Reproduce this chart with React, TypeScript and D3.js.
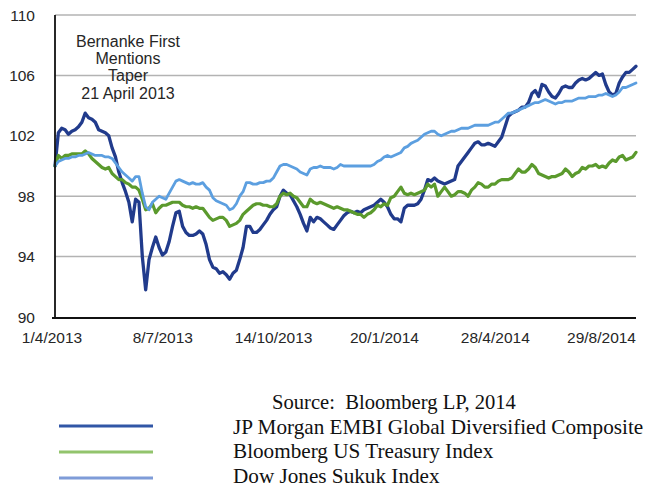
import React from "react";
import * as d3 from "d3";

const jpMorgan = [
  100.0, 102.2, 102.5, 102.4, 102.1, 102.3, 102.4, 102.6, 102.9, 103.5,
  103.2, 103.1, 102.9, 102.4, 102.3, 102.2, 102.0, 101.2, 100.6, 99.6,
  98.9, 98.3, 97.6, 96.3, 97.8, 97.6, 94.0, 91.8, 93.8, 94.6,
  95.3, 94.6, 94.1, 94.3, 95.0, 96.0, 96.9, 97.0, 96.0, 95.6,
  95.4, 95.4, 95.5, 95.7, 95.5, 94.8, 93.8, 93.3, 93.2, 92.9,
  93.0, 92.8, 92.5, 92.9, 93.1, 93.8, 94.6, 96.0, 96.0, 95.6,
  95.6, 95.8, 96.1, 96.4, 96.8, 97.1, 97.3, 98.0, 98.4, 98.2,
  98.1, 97.7, 97.3, 96.8, 96.2, 95.7, 96.6, 96.3, 96.6, 96.5,
  96.3, 96.1, 95.9, 95.8, 96.1, 96.4, 96.7, 96.9, 97.0, 96.9,
  97.0, 96.9, 97.1, 97.2, 97.3, 97.4, 97.6, 97.8, 97.6, 97.3,
  96.8, 96.5, 96.5, 96.3, 97.2, 97.4, 97.4, 97.4, 97.5, 97.8,
  98.4, 99.1, 99.0, 99.2, 99.0, 98.9, 98.8, 98.9, 99.0, 99.1,
  100.0, 100.3, 100.6, 100.9, 101.2, 101.5, 101.6, 101.4, 101.4, 101.5,
  101.4, 101.3, 101.6, 101.9, 102.6, 103.3, 103.5, 103.6, 103.7, 103.9,
  103.9, 104.2, 104.8, 105.0, 104.6, 105.4, 105.3, 104.9, 104.6, 104.5,
  104.8, 105.2, 105.3, 105.2, 105.2, 105.5, 105.7, 105.8, 105.7, 105.8,
  106.0, 106.2, 106.0, 106.1, 105.4, 104.9, 104.7, 104.8, 105.5, 105.9,
  106.2, 106.2, 106.4, 106.6,
];

const usTreasury = [
  100.0, 100.7, 100.5, 100.7, 100.7, 100.8, 100.8, 100.8, 100.8, 101.0,
  100.8, 100.5, 100.3, 100.1, 99.9, 99.8, 99.9, 99.5, 99.3, 99.1,
  99.1, 98.9, 98.8, 98.6, 98.6, 98.4, 97.8, 97.1, 97.2, 97.5,
  96.9, 97.2, 97.4, 97.4, 97.5, 97.6, 97.6, 97.6, 97.4, 97.3,
  97.3, 97.2, 97.3, 97.2, 97.2, 96.9, 96.6, 96.4, 96.5, 96.6,
  96.6, 96.4, 96.0, 96.1, 96.2, 96.4, 96.8, 97.0, 97.2, 97.4,
  97.5, 97.5, 97.4, 97.4, 97.3, 97.3, 97.5, 98.0, 98.2, 98.1,
  98.2, 98.0, 97.9, 97.6, 97.3, 97.3, 97.8, 97.6, 97.5, 97.6,
  97.5, 97.4, 97.3, 97.2, 97.3, 97.2, 97.1, 97.1, 97.0, 96.9,
  96.8, 96.8, 96.6, 96.8, 96.9, 97.1, 97.4, 97.3, 97.5, 97.4,
  97.9, 98.0, 98.3, 98.6, 98.2, 98.1, 98.2, 98.1, 98.2, 98.3,
  98.4, 98.8, 98.6, 98.8, 98.0, 98.3, 98.6, 98.3, 98.0, 98.1,
  98.3, 98.3, 98.2, 98.0, 98.4, 98.6, 98.9, 98.8, 98.6, 98.6,
  98.8, 98.8, 99.0, 99.1, 99.1, 99.1, 99.2, 99.5, 99.8, 99.6,
  99.6, 99.8, 100.1, 99.9, 99.5, 99.4, 99.3, 99.2, 99.3, 99.3,
  99.4, 99.5, 99.8, 99.6, 99.3, 99.5, 99.6, 99.9, 99.8, 100.0,
  100.0, 100.1, 99.9, 100.0, 99.9, 100.2, 100.4, 100.3, 100.6, 100.7,
  100.4, 100.5, 100.6, 100.9,
];

const sukuk = [
  100.0, 100.3, 100.4, 100.5, 100.5, 100.6, 100.6, 100.7, 100.7, 100.8,
  100.9, 100.8, 100.7, 100.7, 100.7, 100.6, 100.6, 100.5, 100.2, 99.9,
  99.6, 99.4, 99.2, 99.0, 99.3, 99.3, 98.2, 97.3, 97.1, 97.6,
  97.8, 98.0, 97.9, 97.8, 98.2, 98.6, 99.0, 99.1, 99.0, 98.9,
  98.8, 98.9, 98.8, 98.8, 98.9, 98.6, 98.4, 97.9, 97.7, 97.6,
  97.5, 97.4, 97.1, 97.2, 97.5, 98.0, 98.3, 98.9, 98.9, 98.8,
  98.8, 98.9, 98.9, 99.0, 99.0, 99.2, 99.6, 100.0, 100.1, 100.1,
  100.0, 99.9, 99.8, 99.6, 99.5, 99.4, 99.8, 99.9, 99.9, 100.0,
  99.9, 99.9, 99.9, 99.8, 99.9, 100.1, 100.0, 100.0, 100.0, 100.0,
  100.0, 100.0, 100.0, 100.0, 100.0, 100.1, 100.3, 100.4, 100.6, 100.7,
  100.6, 100.7, 100.8, 100.9, 101.2, 101.3, 101.5, 101.6, 101.7, 101.9,
  102.1, 102.2, 102.3, 102.3, 102.1, 102.0, 102.1, 102.2, 102.3, 102.3,
  102.4, 102.5, 102.5, 102.5, 102.6, 102.7, 102.7, 102.7, 102.7, 102.7,
  102.8, 102.9, 102.9, 103.1, 103.3, 103.5, 103.5, 103.6, 103.7, 103.8,
  103.9, 104.0, 104.1, 104.2, 104.2, 104.3, 104.4, 104.3, 104.2, 104.1,
  104.2, 104.2, 104.3, 104.3, 104.3, 104.4, 104.5, 104.5, 104.5, 104.6,
  104.6, 104.6, 104.7, 104.7, 104.8, 104.7, 104.6, 104.7, 104.9, 105.2,
  105.2, 105.3, 105.4, 105.5,
];

const xTickIndex = [0, 33, 66, 99, 132, 165];
const xTickLabels = ["1/4/2013", "8/7/2013", "14/10/2013", "20/1/2014", "28/4/2014", "29/8/2014"];
const yTicks = [90, 94, 98, 102, 106, 110];
const annotationLines = ["Bernanke First", "Mentions", "Taper", "21 April 2013"];
const sourceText = "Source:  Bloomberg LP, 2014";
const seriesNames = [
  "JP Morgan EMBI Global Diversified Composite",
  "Bloomberg US Treasury Index",
  "Dow Jones Sukuk Index",
];

const W = 654;
const H = 488;
const left = 55;
const right = 636;
const top = 15;
const bottom = 317;

const sansFont = "'Liberation Sans', Arial, Helvetica, sans-serif";
const serifFont = "'Liberation Serif', 'Times New Roman', serif";

export default function App() {
  const n = jpMorgan.length;
  const x = d3.scaleLinear().domain([0, n - 1]).range([left, right]);
  const y = d3.scaleLinear().domain([90, 110]).range([bottom, top]);
  const line = d3
    .line<number>()
    .x((_, i) => x(i))
    .y((d) => y(d));

  const series = [
    { name: seriesNames[0], data: jpMorgan, color: "#213b8c", legend: "#3156a6", width: 3.3 },
    { name: seriesNames[1], data: usTreasury, color: "#5b9a2d", legend: "#92c46c", width: 3.2 },
    { name: seriesNames[2], data: sukuk, color: "#5c9fe0", legend: "#7f9cd8", width: 2.8 },
  ];

  return (
    <svg
      width={W}
      height={H}
      style={{ position: "absolute", left: 0, top: 0, background: "#fff" }}
    >
      {yTicks
        .filter((t) => t !== 90)
        .map((t) => (
          <line key={t} x1={left} x2={right} y1={y(t)} y2={y(t)} stroke="#b3b3b3" strokeWidth={1.5} />
        ))}
      {yTicks.map((t) => (
        <text
          key={"yl" + t}
          x={35}
          y={y(t)}
          dy="0.36em"
          textAnchor="end"
          fontFamily={sansFont}
          fontSize={15.5}
          fill="#262626"
        >
          {t}
        </text>
      ))}
      {series.map((s) => (
        <path
          key={s.name}
          d={line(s.data) || ""}
          fill="none"
          stroke={s.color}
          strokeWidth={s.width}
          strokeLinejoin="round"
          strokeLinecap="round"
        />
      ))}
      <line x1={left} x2={left} y1={top} y2={bottom + 1} stroke="#111" strokeWidth={1.8} />
      <line x1={left - 3} x2={right} y1={bottom + 1} y2={bottom + 1} stroke="#111" strokeWidth={1.8} />
      {xTickIndex.map((idx, i) => {
        const last = i === xTickIndex.length - 1;
        return (
          <text
            key={"xl" + i}
            x={last ? right : x(idx) - 3}
            y={343}
            textAnchor={last ? "end" : "middle"}
            fontFamily={sansFont}
            fontSize={15.5}
            fill="#262626"
          >
            {xTickLabels[i]}
          </text>
        );
      })}
      {annotationLines.map((t, i) => (
        <text
          key={"an" + i}
          x={128}
          y={47 + i * 17.2}
          textAnchor="middle"
          fontFamily={sansFont}
          fontSize={16}
          fill="#262626"
        >
          {t}
        </text>
      ))}
      <text x={272} y={409} fontFamily={serifFont} fontSize={20.6} fill="#111" style={{ whiteSpace: "pre" }}>
        {sourceText}
      </text>
      {series.map((s, i) => (
        <g key={"lg" + i}>
          <line
            x1={59}
            x2={153}
            y1={426 + i * 26}
            y2={426 + i * 26}
            stroke={s.legend}
            strokeWidth={3}
          />
          <text x={233} y={433.5 + i * 24.8} fontFamily={serifFont} fontSize={21.2} fill="#111">
            {s.name}
          </text>
        </g>
      ))}
    </svg>
  );
}
